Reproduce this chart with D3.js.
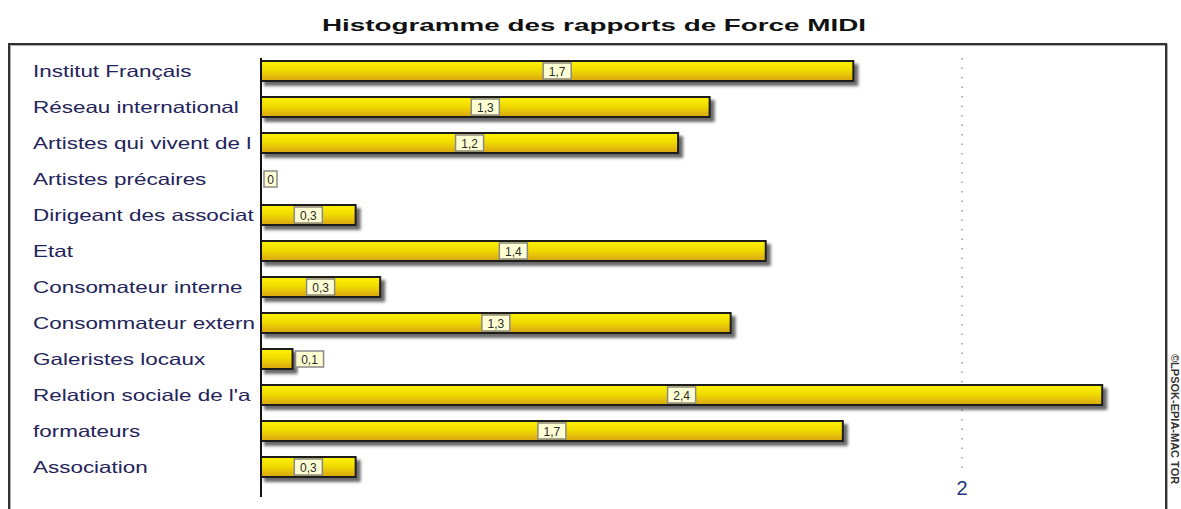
<!DOCTYPE html>
<html>
<head>
<meta charset="utf-8">
<script src="https://cdn.jsdelivr.net/npm/d3@7"></script>
<style>
  body { margin: 0; background: #fff; }
  text { font-family: "Liberation Sans", Arial, sans-serif; }
</style>
</head>
<body>
<script>
var w = 1181;
var h = 509;

var categories = ["Institut Français", "Réseau international", "Artistes qui vivent de l",
    "Artistes précaires", "Dirigeant des associat", "Etat", "Consomateur interne",
    "Consommateur extern", "Galeristes locaux", "Relation sociale de l'a",
    "formateurs", "Association"];
var values = [1.69, 1.28, 1.19, 0, 0.27, 1.44, 0.34, 1.34, 0.09, 2.4, 1.66, 0.27];
var ticks = [2];
var title = "Histogramme des rapports de Force MIDI";
var credit = "©LPSOK-EPIA-MAC TOR";

var stretch = 1.36; // the picture is wider than the text it holds

var svg = d3.select("body")
    .append("svg")
    .attr("width", w)
    .attr("height", h);

var defs = svg.append("defs");

var grad = defs.append("linearGradient")
    .attr("id", "gold")
    .attr("x1", 0).attr("y1", 0)
    .attr("x2", 0).attr("y2", 1);
grad.append("stop").attr("offset", "0%").attr("stop-color", "#fff200");
grad.append("stop").attr("offset", "45%").attr("stop-color", "#f2dc00");
grad.append("stop").attr("offset", "100%").attr("stop-color", "#d8a414");

var shadow = defs.append("filter")
    .attr("id", "shadow")
    .attr("x", "-10%").attr("y", "-30%")
    .attr("width", "130%").attr("height", "180%");
shadow.append("feDropShadow")
    .attr("dx", 4).attr("dy", 4)
    .attr("stdDeviation", 1.5)
    .attr("flood-color", "#444")
    .attr("flood-opacity", 0.8);

var frameShadow = defs.append("filter").attr("id", "fshadow");
frameShadow.append("feDropShadow")
    .attr("dx", 1).attr("dy", 1)
    .attr("stdDeviation", 0.6)
    .attr("flood-color", "#999")
    .attr("flood-opacity", 0.8);

// frame
svg.append("rect")
    .attr("x", 9)
    .attr("y", 44)
    .attr("width", 1157)
    .attr("height", 500)
    .attr("fill", "none")
    .attr("stroke", "#333")
    .attr("stroke-width", 2)
    .attr("filter", "url(#fshadow)");

var x = d3.scaleLinear()
    .domain([0, 2])
    .range([261, 962]);

var y = d3.scalePoint()
    .domain(categories)
    .range([71, 467]);

var barH = 20;

function stretchText(sel, f) {
    sel.each(function() {
        var len = this.getComputedTextLength();
        d3.select(this)
            .attr("textLength", len * f)
            .attr("lengthAdjust", "spacingAndGlyphs");
    });
}

// title
var t = svg.append("text")
    .attr("x", 594)
    .attr("y", 31)
    .attr("text-anchor", "middle")
    .attr("font-size", "17px")
    .attr("font-weight", "bold")
    .attr("fill", "#111")
    .text(title);
t.attr("textLength", 544).attr("lengthAdjust", "spacingAndGlyphs");

// grid line
svg.selectAll(".grid")
    .data(ticks)
    .enter()
    .append("line")
    .attr("x1", function(d) { return x(d); })
    .attr("x2", function(d) { return x(d); })
    .attr("y1", 58)
    .attr("y2", 474)
    .attr("stroke", "#999")
    .attr("stroke-width", 1.5)
    .attr("stroke-dasharray", "1.5,8");

svg.selectAll(".tick")
    .data(ticks)
    .enter()
    .append("text")
    .attr("x", function(d) { return x(d); })
    .attr("y", 495)
    .attr("text-anchor", "middle")
    .attr("font-size", "20px")
    .attr("fill", "#1e3a7a")
    .text(function(d) { return d; });

// category labels
svg.selectAll(".cat")
    .data(categories)
    .enter()
    .append("text")
    .attr("x", 33)
    .attr("y", function(d) { return y(d) + 6; })
    .attr("font-size", "16.5px")
    .attr("fill", "#24245a")
    .text(function(d) { return d; })
    .call(stretchText, stretch);

// bars
svg.selectAll(".bar")
    .data(values)
    .enter()
    .append("rect")
    .attr("x", x(0))
    .attr("y", function(d, i) { return y(categories[i]) - barH / 2; })
    .attr("width", function(d) { return x(d) - x(0); })
    .attr("height", barH)
    .attr("fill", "url(#gold)")
    .attr("stroke", "#1a1a1a")
    .attr("stroke-width", 2)
    .attr("filter", "url(#shadow)")
    .style("display", function(d) { return d > 0 ? null : "none"; });

// axis line
svg.append("line")
    .attr("x1", x(0))
    .attr("x2", x(0))
    .attr("y1", 58)
    .attr("y2", 497)
    .attr("stroke", "#111")
    .attr("stroke-width", 2);

// value labels
var fmt = function(d) { return d3.format(".1~f")(d).replace(".", ","); };

var lab = svg.selectAll(".val")
    .data(values)
    .enter()
    .append("g");

lab.each(function(d, i) {
    var g = d3.select(this);
    var txt = fmt(d);
    var bw = txt.length > 1 ? 28 : 13;
    var bh = 16;
    var cx;
    if (x(d) - x(0) > bw + 8) {
        cx = (x(0) + x(d)) / 2;
    } else {
        cx = x(d) + 3 + bw / 2;
    }
    var cy = y(categories[i]);
    g.append("rect")
        .attr("x", cx - bw / 2)
        .attr("y", cy - bh / 2)
        .attr("width", bw)
        .attr("height", bh)
        .attr("fill", "#ffffd4")
        .attr("stroke", "#8a8a8a")
        .attr("stroke-width", 1.5);
    g.append("text")
        .attr("x", cx)
        .attr("y", cy + 4.5)
        .attr("text-anchor", "middle")
        .attr("font-size", "12px")
        .attr("fill", "#2a2a2a")
        .text(txt);
});

// vertical credit on the right
svg.append("text")
    .attr("transform", "translate(1171,354) rotate(90)")
    .attr("font-size", "11px")
    .attr("font-weight", "bold")
    .attr("fill", "#333")
    .text(credit);
</script>
</body>
</html>
